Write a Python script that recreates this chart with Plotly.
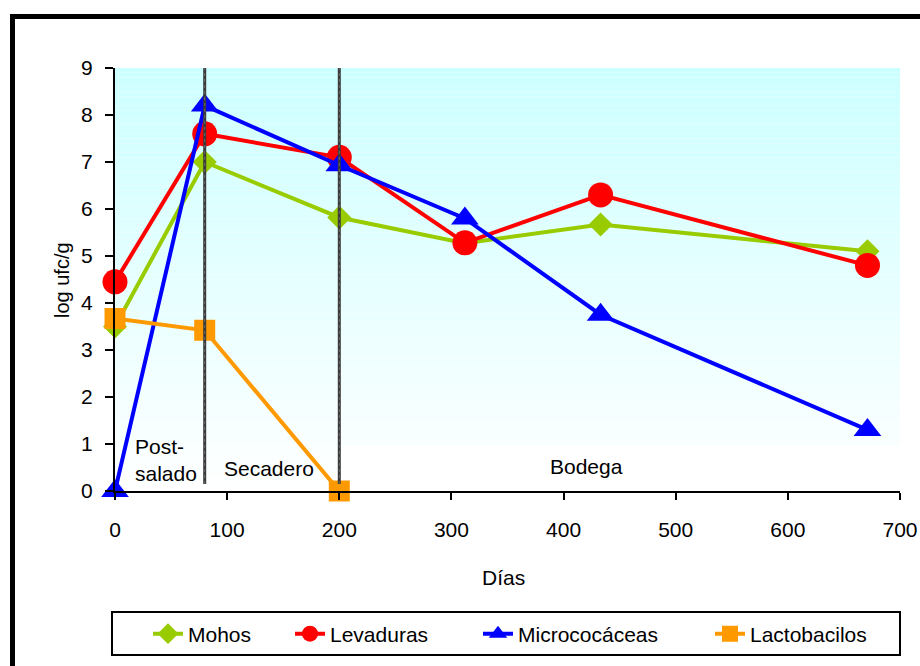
import plotly.graph_objects as go

# Sampling days and microbial counts (log ufc/g)
dias = [0, 80, 200, 312, 433, 671]
mohos = [3.5, 7.0, 5.82, 5.27, 5.67, 5.1]
levaduras = [4.45, 7.6, 7.1, 5.28, 6.3, 4.8]
micrococaceas = [0.0, 8.2, 6.93, 5.8, 3.75, 1.3]
dias_lacto = [0, 80, 200]
lactobacilos = [3.67, 3.42, 0.0]

# Phase boundaries (days) and phase labels
limites_fase = [80, 200]
fases = ["Post-<br>salado", "Secadero", "Bodega"]
fases_x = [16, 137, 420]
fases_y = [0.66, 0.47, 0.53]

x_ticks = [0, 100, 200, 300, 400, 500, 600, 700]
y_ticks = [0, 1, 2, 3, 4, 5, 6, 7, 8, 9]

FONT = "Liberation Sans, Arial, sans-serif"
FS = 21

fig = go.Figure()

series = [
    ("Mohos", dias, mohos, "#99CC00", "diamond", 18.5, 97),
    ("Levaduras", dias, levaduras, "#FF0000", "circle", 25, 143),
    ("Micrococáceas", dias, micrococaceas, "#0000FF", "triangle-up", 24, 187),
    ("Lactobacilos", dias_lacto, lactobacilos, "#FF9900", "square", 21, 130),
]
for name, xs, ys, color, symbol, size, lw in series:
    fig.add_trace(go.Scatter(
        x=xs, y=ys, name=name, mode="lines+markers",
        line=dict(color=color, width=4),
        marker=dict(color=color, symbol=symbol, size=size, line=dict(width=0)),
        cliponaxis=False, legendwidth=lw,
    ))

shapes = []

# Vertical cyan-to-white gradient behind the plot
n_strips = 90
y_top, y_bot = 9.0, 0.0
for i in range(n_strips):
    y1 = y_top - (y_top - y_bot) * i / n_strips
    y0 = y_top - (y_top - y_bot) * (i + 1) / n_strips
    t = (i + 0.5) / n_strips
    r = int(round(204 + (255 - 204) * t))
    shapes.append(dict(type="rect", xref="x", yref="y", x0=0, x1=700, y0=y0, y1=y1,
                       fillcolor=f"rgb({r},255,255)", line=dict(width=0), layer="below"))

# White box behind the "Bodega" label
shapes.append(dict(type="rect", xref="x", yref="y", x0=200, x1=700, y0=0, y1=0.96,
                   fillcolor="white", line=dict(width=0), layer="below"))

# Phase boundary lines (dark core with a dotted overlay for texture)
for xb in limites_fase:
    shapes.append(dict(type="line", xref="x", yref="y", x0=xb, x1=xb, y0=0.15, y1=9.05,
                       line=dict(color="#3a3a3a", width=3), layer="above"))
    shapes.append(dict(type="line", xref="x", yref="y", x0=xb, x1=xb, y0=0.15, y1=9.05,
                       line=dict(color="#6a6a6a", width=1, dash="dot"), layer="above"))

# Pixel helpers for paper coordinates
L, R, T, B = 115, 900, 68, 491
def px(x):
    return (x - L) / (R - L)
def py(y):
    return (B - y) / (B - T)

# Legend box
shapes.append(dict(type="rect", xref="paper", yref="paper",
                   x0=px(112), x1=px(900), y0=py(655), y1=py(612),
                   line=dict(color="black", width=2), fillcolor="rgba(0,0,0,0)"))

# Outer frame
shapes.append(dict(type="rect", xref="paper", yref="paper",
                   x0=px(12.5), x1=px(960), y0=py(720), y1=py(16.5),
                   line=dict(color="black", width=5), fillcolor="rgba(0,0,0,0)"))

annotations = []
for txt, xa, ya in zip(fases, fases_x, fases_y):
    annotations.append(dict(x=xa, y=ya, xref="x", yref="y", text=txt, showarrow=False,
                            xanchor="left" if txt.startswith("Post") else "center",
                            align="left", yanchor="middle",
                            font=dict(family=FONT, size=FS, color="black")))

annotations.append(dict(x=px(503), y=py(577), xref="paper", yref="paper", text="Días",
                        xanchor="center", yanchor="middle",
                        showarrow=False, font=dict(family=FONT, size=FS, color="black")))
annotations.append(dict(x=px(62), y=py(280), xref="paper", yref="paper", text="log ufc/g",
                        textangle=-90, xanchor="center", yanchor="middle", showarrow=False,
                        font=dict(family=FONT, size=20, color="black")))

fig.update_layout(
    width=920, height=666,
    margin=dict(l=L, r=920 - R, t=T, b=666 - B, autoexpand=False),
    paper_bgcolor="white", plot_bgcolor="rgba(0,0,0,0)",
    font=dict(family=FONT, size=FS, color="black"),
    shapes=shapes, annotations=annotations,
    showlegend=True,
    legend=dict(orientation="h", x=px(148), y=py(634), xanchor="left", yanchor="middle",
                bgcolor="rgba(0,0,0,0)", borderwidth=0,
                font=dict(family=FONT, size=FS, color="black"),
                tracegroupgap=0, entrywidthmode="pixels"),
    xaxis=dict(range=[0, 700], tickvals=x_ticks, showgrid=False, zeroline=False,
               showline=True, linecolor="black", linewidth=2, automargin=False,
               ticks="outside", ticklen=7, tickwidth=2, tickcolor="black",
               ticklabelstandoff=12, tickfont=dict(family=FONT, size=FS)),
    yaxis=dict(range=[0, 9], tickvals=y_ticks, showgrid=False, zeroline=False,
               showline=True, linecolor="black", linewidth=2, automargin=False,
               ticks="outside", ticklen=8, tickwidth=2, tickcolor="black",
               ticklabelstandoff=8, tickfont=dict(family=FONT, size=FS)),
)

fig.write_html("out.html")
